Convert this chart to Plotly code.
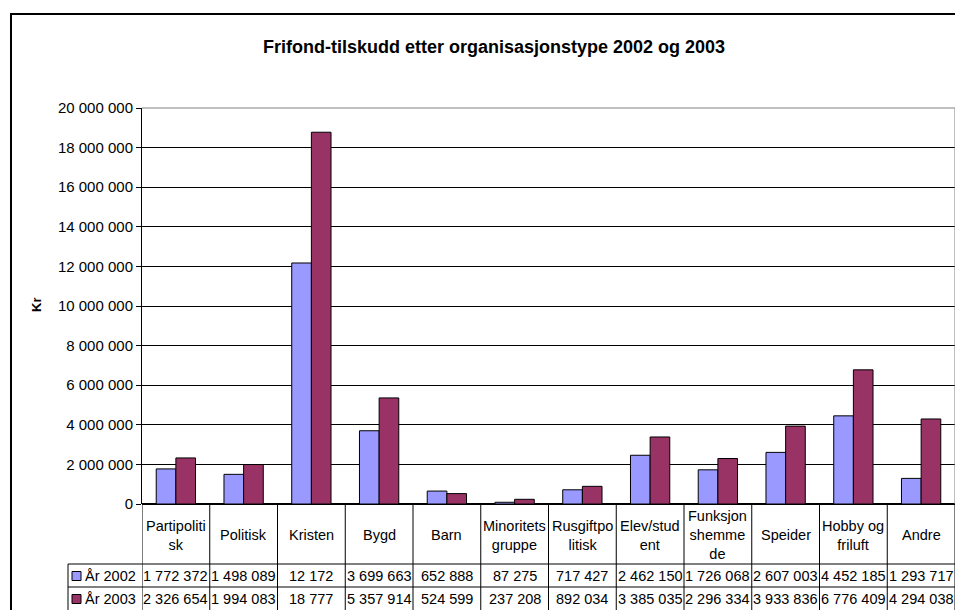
import plotly.graph_objects as go

categories = ["Partipolitisk", "Politisk", "Kristen", "Bygd", "Barn", "Minoritetsgruppe",
              "Rusgiftpolitisk", "Elev/student", "Funksjonshemmede", "Speider",
              "Hobby og friluft", "Andre"]
category_labels = ["Partipoliti<br>sk", "Politisk", "Kristen", "Bygd", "Barn", "Minoritets<br>gruppe",
                   "Rusgiftpo<br>litisk", "Elev/stud<br>ent", "Funksjon<br>shemme<br>de", "Speider",
                   "Hobby og<br>friluft", "Andre"]
series_names = ["År 2002", "År 2003"]
values_2002 = [1772372, 1498089, 12172000, 3699663, 652888, 87275,
               717427, 2462150, 1726068, 2607003, 4452185, 1293717]
values_2003 = [2326654, 1994083, 18777000, 5357914, 524599, 237208,
               892034, 3385035, 2296334, 3933836, 6776409, 4294038]
table_2002 = ["1 772 372", "1 498 089", "12 172", "3 699 663", "652 888", "87 275",
              "717 427", "2 462 150", "1 726 068", "2 607 003", "4 452 185", "1 293 717"]
table_2003 = ["2 326 654", "1 994 083", "18 777", "5 357 914", "524 599", "237 208",
              "892 034", "3 385 035", "2 296 334", "3 933 836", "6 776 409", "4 294 038"]
y_ticks = list(range(0, 20000001, 2000000))
y_tick_labels = ["0" if v == 0 else f"{v:,}".replace(",", " ") for v in y_ticks]

colors = ["#9999FF", "#993366"]
FONT = "Arial, 'Liberation Sans', sans-serif"

# page offset (body margin) = 8px
OFF = 8
W, H = 963 - OFF, 610 - OFF
# plot area in page pixels
L, R, T, B = 142, 955, 108, 504

def px_x(px):
    return (px - L) / (R - L)

def px_y(py):
    return (B - py) / (B - T)

n = len(categories)
xs = list(range(n))

fig = go.Figure()
for name, vals, col in zip(series_names, [values_2002, values_2003], colors):
    fig.add_trace(go.Bar(x=xs, y=vals, name=name, marker=dict(color=col, line=dict(color="black", width=1)),
                         showlegend=False))

shapes = []
annotations = []

# outer chart border
shapes.append(dict(type="rect", xref="paper", yref="paper", x0=px_x(11), x1=px_x(1010),
                   y0=px_y(14), y1=px_y(700), line=dict(color="black", width=2), layer="above"))
# plot area border (top/right gray)
shapes.append(dict(type="line", xref="paper", yref="paper", x0=0, x1=1, y0=1, y1=1,
                   line=dict(color="#808080", width=1)))
shapes.append(dict(type="line", xref="paper", yref="paper", x0=1, x1=1, y0=0, y1=1,
                   line=dict(color="#808080", width=1)))

# table vertical lines
for k in range(n + 1):
    shapes.append(dict(type="line", xref="x", yref="paper", x0=k - 0.5, x1=k - 0.5,
                       y0=px_y(504), y1=px_y(612), line=dict(color="black", width=1)))
# left column line
shapes.append(dict(type="line", xref="paper", yref="paper", x0=px_x(68), x1=px_x(68),
                   y0=px_y(564), y1=px_y(612), line=dict(color="black", width=1)))
# horizontal lines
for py in [564, 587]:
    shapes.append(dict(type="line", xref="paper", yref="paper", x0=px_x(68), x1=1,
                       y0=px_y(py), y1=px_y(py), line=dict(color="black", width=1)))

TF = 14.5
# header labels
for i, lab in enumerate(category_labels):
    annotations.append(dict(x=i, y=px_y(535), xref="x", yref="paper", text=lab, showarrow=False,
                            font=dict(family=FONT, size=TF, color="black"), align="center",
                            xanchor="center", yanchor="middle"))
# table values
for row, py in zip([table_2002, table_2003], [576, 599]):
    for i, t in enumerate(row):
        annotations.append(dict(x=i, y=px_y(py), xref="x", yref="paper", text=t, showarrow=False,
                                font=dict(family=FONT, size=TF, color="black"),
                                xanchor="center", yanchor="middle"))
# row headers with keys
for name, col, py in zip(series_names, colors, [576, 599]):
    shapes.append(dict(type="rect", xref="paper", yref="paper", x0=px_x(72), x1=px_x(81),
                       y0=px_y(py - 4.5), y1=px_y(py + 4.5), fillcolor=col,
                       line=dict(color="black", width=1)))
    annotations.append(dict(x=px_x(83), y=px_y(py), xref="paper", yref="paper", text=name,
                            showarrow=False, font=dict(family=FONT, size=TF, color="black"),
                            xanchor="left", yanchor="middle"))

# title
annotations.append(dict(x=px_x(494), y=px_y(47), xref="paper", yref="paper",
                        text="<b>Frifond-tilskudd etter organisasjonstype 2002 og 2003</b>",
                        showarrow=False, font=dict(family=FONT, size=18, color="black"),
                        xanchor="center", yanchor="middle"))
# y-axis title
annotations.append(dict(x=px_x(36), y=px_y(305), xref="paper", yref="paper", text="<b>Kr</b>",
                        showarrow=False, textangle=-90, font=dict(family=FONT, size=13, color="black"),
                        xanchor="center", yanchor="middle"))

fig.update_layout(
    width=W, height=H,
    margin=dict(l=L - OFF, r=(963 - R), t=T - OFF, b=610 - B, autoexpand=False),
    paper_bgcolor="white", plot_bgcolor="white",
    barmode="group", bargap=0.42, bargroupgap=0,
    shapes=shapes, annotations=annotations,
    font=dict(family=FONT, size=14, color="black"),
    xaxis=dict(range=[-0.5, n - 0.5], showticklabels=False, showgrid=False, zeroline=False,
               showline=False, ticks=""),
    yaxis=dict(range=[0, 20000000], tickvals=y_ticks, ticktext=y_tick_labels,
               showgrid=True, gridcolor="black", gridwidth=1, zeroline=True, zerolinecolor="black",
               showline=True, linecolor="black", linewidth=1, ticks="outside", ticklen=5,
               tickcolor="black", tickfont=dict(family=FONT, size=15, color="black")),
)

fig.write_html("out.html")
